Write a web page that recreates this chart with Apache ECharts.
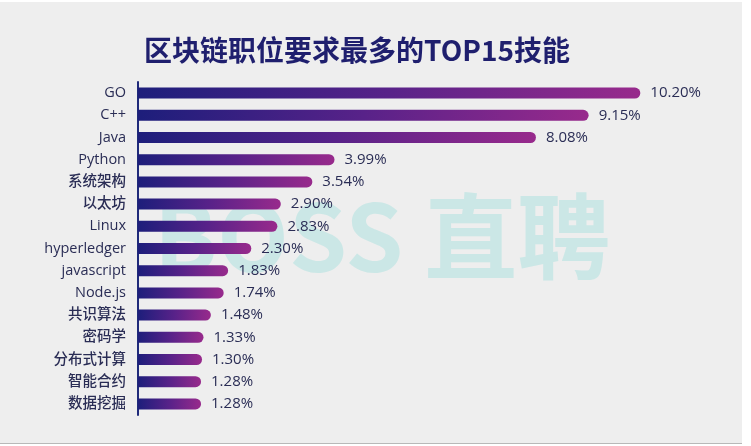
<!DOCTYPE html>
<html>
<head>
<meta charset="utf-8">
<script src="https://cdn.jsdelivr.net/npm/echarts@6/dist/echarts.min.js"></script>
<style>
html,body{margin:0;padding:0;background:#fff;}
#chart{width:751px;height:446px;}
</style>
</head>
<body>
<div id="chart"></div>
<script>
var titleText = '区块链职位要求最多的TOP15技能';
var watermarkText = 'BOSS 直聘';
var categories = ['GO','C++','Java','Python','系统架构','以太坊','Linux','hyperledger','javascript','Node.js','共识算法','密码学','分布式计算','智能合约','数据挖掘'];
var values = [10.20, 9.15, 8.08, 3.99, 3.54, 2.90, 2.83, 2.30, 1.83, 1.74, 1.48, 1.33, 1.30, 1.28, 1.28];

var chart = echarts.init(document.getElementById('chart'), null, {renderer:'canvas'});
var font = '"Open Sans", "Noto Sans CJK SC", sans-serif';
chart.setOption({
  backgroundColor: '#ffffff',
  animation: false,
  title: {
    text: titleText,
    left: 352,
    textAlign: 'center',
    top: 31,
    textStyle: {
      fontFamily: '"Noto Sans CJK SC", sans-serif',
      fontWeight: 'bold',
      fontSize: 28,
      color: '#1f1f6e'
    }
  },
  graphic: [
    {type:'rect', z:-10, shape:{x:0,y:2,width:742,height:441}, style:{fill:'#eeeeee'}},
    {type:'rect', z:-10, shape:{x:0,y:443,width:742,height:1}, style:{fill:'#b8b8b8'}},
    {type:'text', z:-5, left:154, top:190,
      style:{text:watermarkText, fill:'#cbe7e6', font:'bold 93px "Noto Sans CJK SC", sans-serif'}}
  ],
  grid: {left:138, top:82, width:591, height:333, containLabel:false},
  xAxis: {
    type:'value', min:0, max:12, show:false
  },
  yAxis: {
    type:'category', data: categories, inverse:true,
    axisLine:{show:true, lineStyle:{color:'#1f2a7a', width:2}},
    axisTick:{show:false},
    axisLabel:{margin:12, fontSize:14.5, fontWeight:500, color:'#2a2d55', fontFamily:font}
  },
  series: [{
    type:'bar',
    data: values,
    barWidth: 11,
    itemStyle: {
      borderRadius:[0,6,6,0],
      color: new echarts.graphic.LinearGradient(0,0,1,0,[
        {offset:0, color:'#1d1e7b'},
        {offset:0.5, color:'#582289'},
        {offset:1, color:'#982a8c'}
      ])
    },
    label: {
      show:true, position:'right', distance:10,
      fontSize:15, fontWeight:500, color:'#2a2d55', fontFamily:font,
      formatter: function(p){ return p.value.toFixed(2) + '%'; }
    }
  }]
});
</script>
</body>
</html>
